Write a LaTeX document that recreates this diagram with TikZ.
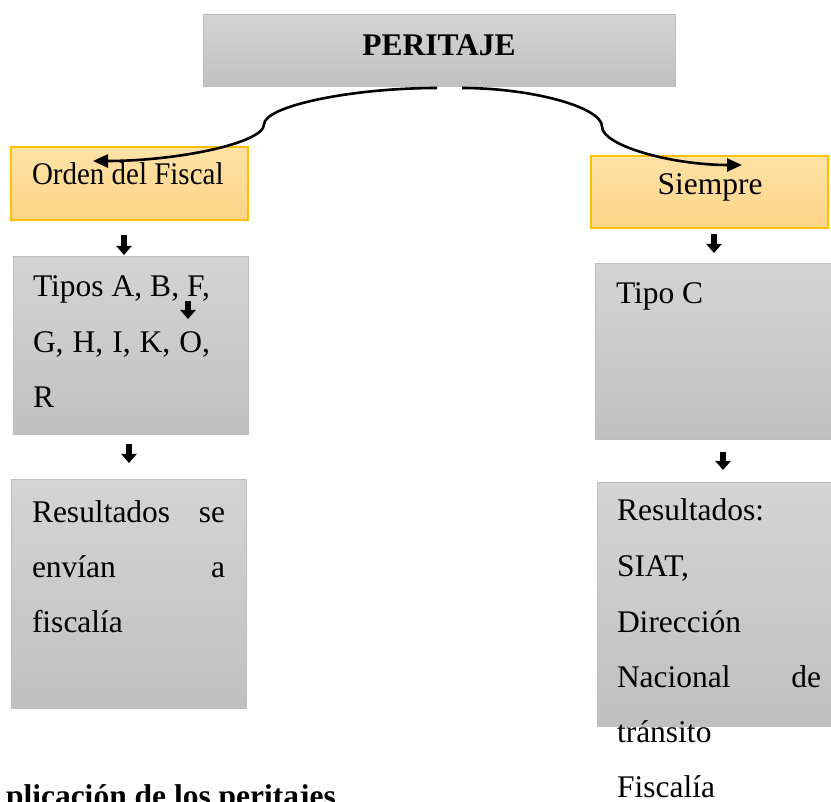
\documentclass[tikz,border=0pt]{standalone}
\usepackage{fontspec}
\setmainfont{Liberation Serif}
\usepackage{graphicx}
\usetikzlibrary{arrows.meta}
\definecolor{grayTop}{HTML}{D4D4D4}
\definecolor{grayBot}{HTML}{C0C0C0}
\definecolor{grayLine}{HTML}{BDBDBD}
\definecolor{orTop}{HTML}{FFE2A6}
\definecolor{orBot}{HTML}{FDD487}
\definecolor{orLine}{HTML}{FFC000}
\tikzset{
  graybox/.style={draw=grayLine, line width=1pt, top color=grayTop, bottom color=grayBot,
    inner sep=0pt, outer sep=0pt, anchor=north west},
  orbox/.style={draw=orLine, line width=1.2pt, top color=orTop, bottom color=orBot,
    inner sep=0pt, outer sep=0pt, anchor=north west},
  txt/.style={inner sep=0pt, outer sep=0pt, anchor=base west, font=\fontsize{31.5}{38}\selectfont},
  boldtxt/.style={txt, font=\fontsize{31.5}{38}\selectfont\bfseries},
  conn/.style={line width=2.6pt, -{Triangle[length=15pt,width=13pt]}},
  blk/.style={line width=6.5pt, -{Triangle[length=9pt,width=15pt]}}
}
\begin{document}
\begin{tikzpicture}[x=1pt,y=-1pt]
\useasboundingbox (0,0) rectangle (831,802);
% boxes
\node[graybox, minimum width=472pt, minimum height=72pt] (peritaje) at (203,15) {};
\node[orbox, minimum width=237pt, minimum height=73pt] (orden) at (11,147) {};
\node[graybox, minimum width=235pt, minimum height=178pt] (tipos) at (13,257) {};
\node[graybox, minimum width=235pt, minimum height=228pt] (resL) at (11,480) {};
\node[orbox, minimum width=237pt, minimum height=72pt] (siempre) at (591,156) {};
\node[graybox, minimum width=240pt, minimum height=176pt] (tipoc) at (595,264) {};
\node[graybox, minimum width=240pt, minimum height=243pt] (resR) at (597,483) {};
% texts
\node[boldtxt, anchor=base] (tPer) at (439,56) {PERITAJE};
\node[txt] (tOrden) at (32,185) {\scalebox{0.92}[1]{Orden del Fiscal}};
\node[txt, anchor=base] (tSiempre) at (710,195) {Siempre};
\node[txt, text width=177pt] (tip1) at (33,297) {Tipos\hfill A,\hfill B,\hfill F,};
\node[txt, text width=177pt] (tip2) at (33,353) {G,\hfill H,\hfill I,\hfill K,\hfill O,};
\node[txt] (tip3) at (33,408) {R};
\node[txt] (tTipoC) at (616,304) {Tipo C};
\node[txt, text width=193pt] (rl1) at (32,522) {Resultados\hfill se};
\node[txt, text width=193pt] (rl2) at (32,577) {envían\hfill a};
\node[txt] (rl3) at (32,632) {fiscalía};
\node[txt] (rr1) at (617,521) {Resultados:};
\node[txt] (rr2) at (617,576.5) {SIAT,};
\node[txt] (rr3) at (617,632) {Dirección};
\node[txt, text width=204pt] (rr4) at (617,687) {Nacional\hfill de};
\node[txt] (rr5) at (617,742.5) {tránsito};
\node[txt] (rr6) at (617,797) {Fiscalía};
\node[boldtxt] (caption) at (6,806) {plicación de los peritajes};
% curved connectors
\coordinate (pL) at (437,88);
\coordinate (pR) at (462,88);
\coordinate (oL) at (93,161);
\coordinate (oR) at (742,165);
\draw[conn] (pL) .. controls (350.5,88) and (264,106.25) .. (264,124.5)
                 .. controls (264,142.75) and (178.5,161) .. (oL);
\draw[conn] (pR) .. controls (532,88) and (602,107.25) .. (602,126.5)
                 .. controls (602,145.75) and (672,165) .. (oR);
% small block arrows
\coordinate (a1s) at (124,235); \coordinate (a1e) at (124,255);
\coordinate (a2s) at (188,301); \coordinate (a2e) at (188,319);
\coordinate (a3s) at (129,444); \coordinate (a3e) at (129,463);
\coordinate (a4s) at (714,234); \coordinate (a4e) at (714,253);
\coordinate (a5s) at (723,452); \coordinate (a5e) at (723,470);
\draw[blk] (a1s) -- (a1e);
\draw[blk] (a2s) -- (a2e);
\draw[blk] (a3s) -- (a3e);
\draw[blk] (a4s) -- (a4e);
\draw[blk] (a5s) -- (a5e);
\end{tikzpicture}
\end{document}
